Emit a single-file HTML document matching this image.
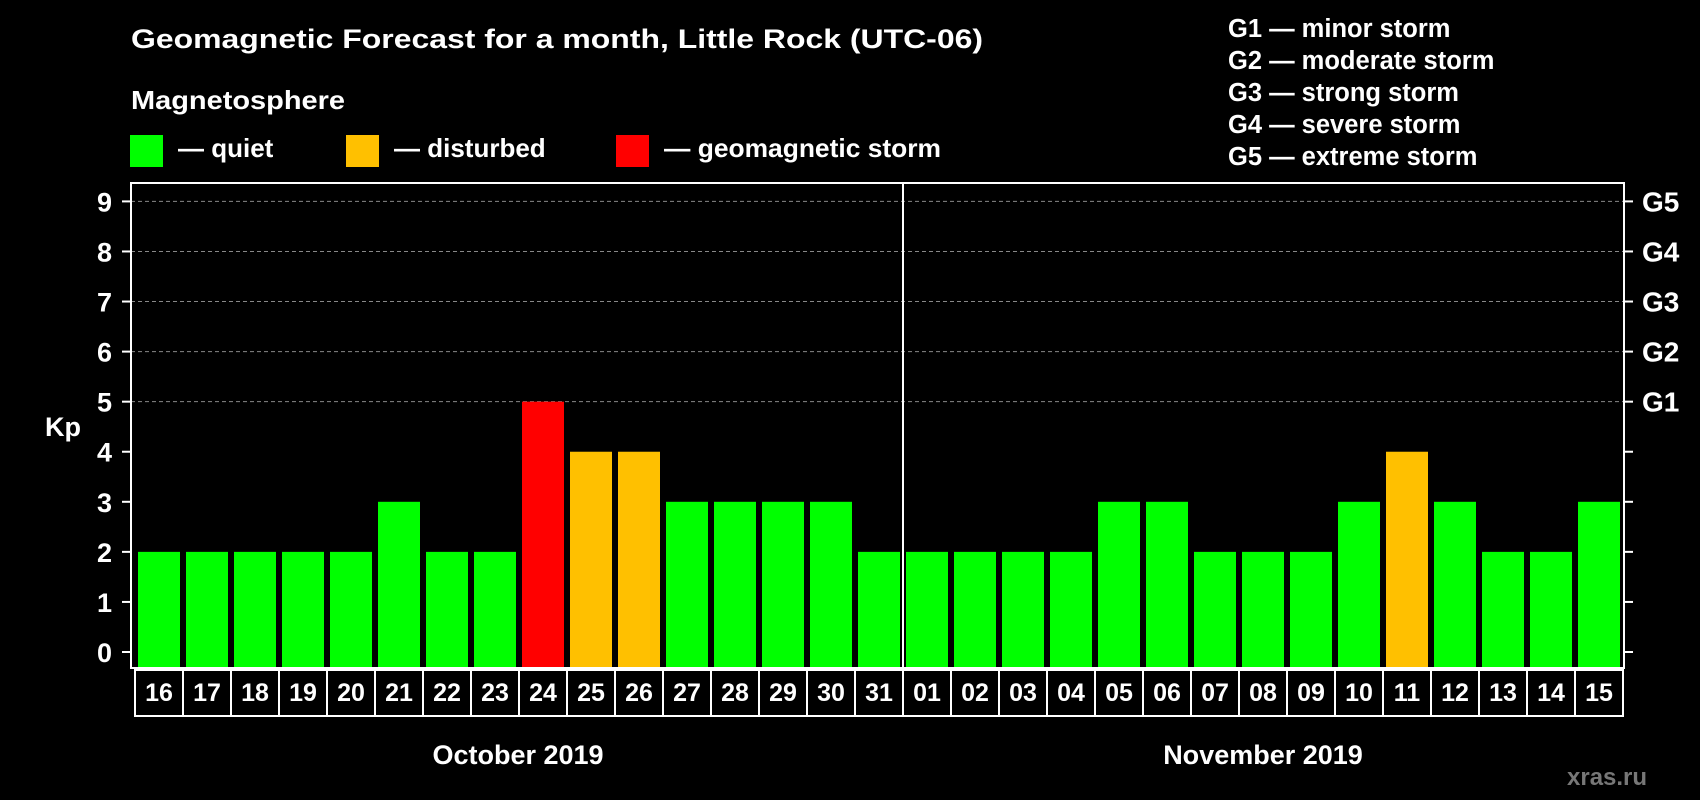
<!DOCTYPE html>
<html><head><meta charset="utf-8"><style>
html,body{margin:0;padding:0;background:#000;}
svg{display:block;font-family:"Liberation Sans",Arial,sans-serif;font-weight:bold;}
</style></head><body>
<svg id="chart" width="1700" height="800" viewBox="0 0 1700 800">
<rect width="1700" height="800" fill="#000"/>
<text x="131" y="48" fill="#fff" font-size="27" textLength="852" lengthAdjust="spacingAndGlyphs">Geomagnetic Forecast for a month, Little Rock (UTC-06)</text>
<text x="131" y="109" fill="#fff" font-size="26" textLength="214" lengthAdjust="spacingAndGlyphs">Magnetosphere</text>
<g><rect x="130" y="135" width="33" height="32" fill="#00ff00"/><text x="178" y="157" fill="#fff" font-size="26">— quiet</text></g>
<g><rect x="346" y="135" width="33" height="32" fill="#ffc000"/><text x="394" y="157" fill="#fff" font-size="26">— disturbed</text></g>
<g><rect x="616" y="135" width="33" height="32" fill="#ff0000"/><text x="664" y="157" fill="#fff" font-size="26" textLength="277" lengthAdjust="spacingAndGlyphs">— geomagnetic storm</text></g>
<g fill="#fff" font-size="25.5">
<text x="1228" y="37">G1 — minor storm</text>
<text x="1228" y="69">G2 — moderate storm</text>
<text x="1228" y="101">G3 — strong storm</text>
<text x="1228" y="133">G4 — severe storm</text>
<text x="1228" y="165">G5 — extreme storm</text>
</g>
<text x="63" y="436" fill="#fff" font-size="27" text-anchor="middle">Kp</text>
<g id="grid"></g><g id="bars"></g><g id="axes"></g><g id="dates"></g>
<text x="518" y="764" fill="#fff" font-size="27" text-anchor="middle">October 2019</text>
<text x="1263" y="764" fill="#fff" font-size="27" text-anchor="middle">November 2019</text>
<text x="1567" y="785" fill="#777" font-size="24">xras.ru</text>
</svg>
<script>
const days = ["16","17","18","19","20","21","22","23","24","25","26","27","28","29","30","31","01","02","03","04","05","06","07","08","09","10","11","12","13","14","15"];
const kpValues = [2,2,2,2,2,3,2,2,5,4,4,3,3,3,3,2,2,2,2,2,3,3,2,2,2,3,4,3,2,2,3];
const yTicks = [0,1,2,3,4,5,6,7,8,9];
const gLabels = ["","","","","","G1","G2","G3","G4","G5"];
const NS="http://www.w3.org/2000/svg";
const L=131,R=1624,T=183,B=668,Y0=652,UNIT=(652-201.4)/9,X0=138,SLOT=48,BW=42;
const y=v=>Y0-v*UNIT, x=i=>X0+i*SLOT;
function mk(tag,attrs,parent,txt){const e=document.createElementNS(NS,tag);for(const k in attrs)e.setAttribute(k,attrs[k]);if(txt!==undefined)e.textContent=txt;parent.appendChild(e);return e;}
const grid=document.getElementById('grid'),bars=document.getElementById('bars'),axes=document.getElementById('axes'),dates=document.getElementById('dates');
yTicks.forEach((t,i)=>{
  if(t>=5){const g=mk('line',{x1:L,x2:R,y1:y(t),y2:y(t),stroke:'#888','stroke-width':1,'stroke-dasharray':'4,3'},grid);
    
    }
  const tl=mk('line',{x1:L-9,x2:L,y1:y(t),y2:y(t),stroke:'#fff','stroke-width':2},axes);
  
  
  const tr=mk('line',{x1:R,x2:R+9,y1:y(t),y2:y(t),stroke:'#fff','stroke-width':2},axes);
  
  
  const lb=mk('text',{x:112,y:y(t)+10,fill:'#fff','font-size':27,'text-anchor':'end'},axes,String(t));
  
  
  if(gLabels[i]){const gl=mk('text',{x:1642,y:y(t)+10,fill:'#fff','font-size':28},axes,gLabels[i]);
    
    }
});
kpValues.forEach((v,i)=>{
  const col=v>=5?'#ff0000':(v>=4?'#ffc000':'#00ff00');
  const r=mk('rect',{x:x(i),y:y(v),width:BW,height:B-y(v),fill:col},bars);
  
  
});
const frame=mk('rect',{x:L,y:T,width:R-L,height:B-T,fill:'none',stroke:'#fff','stroke-width':2},axes);


const db=mk('rect',{x:135,y:B+2,width:1488,height:46,fill:'none',stroke:'#fff','stroke-width':2},dates);


days.forEach((d,i)=>{
  if(i>0){const s=mk('line',{x1:x(i)-3,x2:x(i)-3,y1:B+2,y2:B+48,stroke:'#fff','stroke-width':2},dates);
    
    }
  const t=mk('text',{x:x(i)+BW/2,y:701,fill:'#fff','font-size':25,'text-anchor':'middle'},dates,d);
  
  
});
const mi=days.indexOf("01");
const div=mk('line',{x1:x(mi)-3,x2:x(mi)-3,y1:T,y2:B+48,stroke:'#fff','stroke-width':2},axes);


</script>
</body></html>
